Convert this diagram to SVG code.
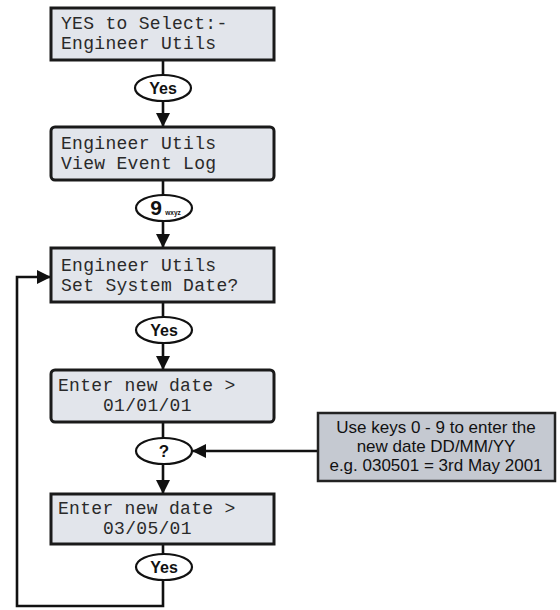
<svg xmlns="http://www.w3.org/2000/svg" width="560" height="610" viewBox="0 0 560 610">
<style>
.scr{fill:#e2e5eb;stroke:#1a1a1a;stroke-width:3}
.lcd{font-family:"Liberation Mono","DejaVu Sans Mono",monospace;font-size:18px;letter-spacing:0.3px;fill:#2a2a2a}
.key{fill:#fff;stroke:#111;stroke-width:2.2}
.kt{font-family:"Liberation Sans",Arial,sans-serif;font-weight:bold;font-size:16px;fill:#111;text-anchor:middle}
.ln{fill:none;stroke:#111;stroke-width:2.6}
.note{fill:#c5c9d1;stroke:#222;stroke-width:2.5}
.nt{font-family:"Liberation Sans",Arial,sans-serif;font-size:17px;fill:#111;text-anchor:middle}
</style>
<defs>
<marker id="ah" viewBox="0 0 14 14" refX="14" refY="7" markerWidth="14" markerHeight="14" markerUnits="userSpaceOnUse" orient="auto">
<path d="M0,0 L14,7 L0,14 z" fill="#111"/>
</marker>
</defs>
<g id="connectors">
<line class="ln" x1="163" y1="60" x2="163" y2="75"/>
<line class="ln" x1="163" y1="101" x2="163" y2="127" marker-end="url(#ah)"/>
<line class="ln" x1="163" y1="180" x2="163" y2="195"/>
<line class="ln" x1="163" y1="221" x2="163" y2="248" marker-end="url(#ah)"/>
<line class="ln" x1="163" y1="302" x2="163" y2="317"/>
<line class="ln" x1="163" y1="343" x2="163" y2="370" marker-end="url(#ah)"/>
<line class="ln" x1="163" y1="422" x2="163" y2="438"/>
<line class="ln" x1="163" y1="464" x2="163" y2="494" marker-end="url(#ah)"/>
<line class="ln" x1="163" y1="544" x2="163" y2="554"/>
<polyline class="ln" points="163,580 163,606 17,606 17,277 51,277" marker-end="url(#ah)"/>
<line class="ln" x1="318" y1="451" x2="192" y2="451" marker-end="url(#ah)"/>
</g>
<g id="screen1">
<rect class="scr" x="51" y="8" width="223" height="52"/>
<text class="lcd" x="61" y="29">YES to Select:-</text>
<text class="lcd" x="61" y="49">Engineer Utils</text>
</g>
<g id="key-yes1">
<ellipse class="key" cx="163" cy="88" rx="28" ry="13"/>
<text class="kt" x="163" y="94">Yes</text>
</g>
<g id="screen2">
<rect class="scr" x="51" y="127" width="223" height="53" rx="4"/>
<text class="lcd" x="61" y="149">Engineer Utils</text>
<text class="lcd" x="61" y="169">View Event Log</text>
</g>
<g id="key-9">
<ellipse class="key" cx="164" cy="208" rx="28" ry="13"/>
<text class="kt" x="156" y="215" style="font-size:21px">9</text>
<text class="kt" x="173" y="215" style="font-size:6.5px">wxyz</text>
</g>
<g id="screen3">
<rect class="scr" x="51" y="248" width="223" height="54"/>
<text class="lcd" x="61" y="271">Engineer Utils</text>
<text class="lcd" x="61" y="291">Set System Date?</text>
</g>
<g id="key-yes2">
<ellipse class="key" cx="164" cy="330" rx="28" ry="13"/>
<text class="kt" x="164" y="336">Yes</text>
</g>
<g id="screen4">
<rect class="scr" x="51" y="370" width="223" height="52" rx="4"/>
<text class="lcd" x="58" y="391">Enter new date &gt;</text>
<text class="lcd" x="103" y="411">01/01/01</text>
</g>
<g id="key-q">
<ellipse class="key" cx="164" cy="451" rx="28" ry="13"/>
<text class="kt" x="164" y="457" style="font-size:17px">?</text>
</g>
<g id="screen5">
<rect class="scr" x="51" y="494" width="223" height="50"/>
<text class="lcd" x="58" y="514">Enter new date &gt;</text>
<text class="lcd" x="103" y="534">03/05/01</text>
</g>
<g id="key-yes3">
<ellipse class="key" cx="164" cy="567" rx="28" ry="13"/>
<text class="kt" x="164" y="573">Yes</text>
</g>
<g id="note">
<rect class="note" x="318" y="413" width="237" height="68"/>
<text class="nt" x="436" y="433">Use keys 0 - 9 to enter the</text>
<text class="nt" x="436" y="452">new date DD/MM/YY</text>
<text class="nt" x="436" y="471">e.g. 030501 = 3rd May 2001</text>
</g>
</svg>
